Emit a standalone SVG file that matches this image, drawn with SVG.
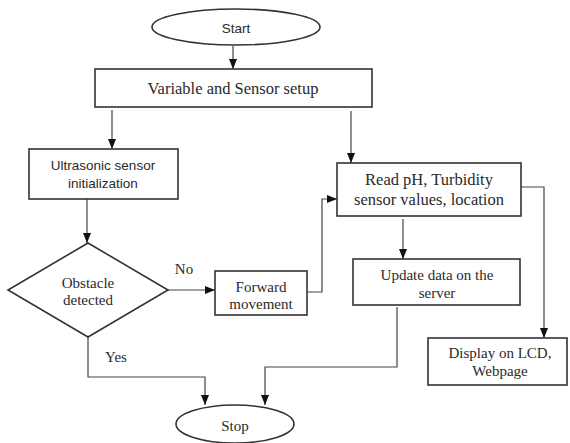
<svg xmlns="http://www.w3.org/2000/svg" width="570" height="443" viewBox="0 0 570 443">
<style>
.shape{fill:#fff;stroke:#333;stroke-width:1.6}
.conn{fill:none;stroke:#444;stroke-width:1.2}
.serif{font-family:"Liberation Serif","Times New Roman",serif;fill:#2a2a2a;text-anchor:middle;dominant-baseline:central}
.sans{font-family:"Liberation Sans",Arial,sans-serif;fill:#2a2a2a;text-anchor:middle;dominant-baseline:central}
</style>
<defs>
<marker id="arr" markerUnits="userSpaceOnUse" markerWidth="10" markerHeight="10" viewBox="0 0 10 10" refX="10" refY="5" orient="auto">
<path d="M0,1 L10,5 L0,9 Z" fill="#111"/>
</marker>
</defs>
<rect width="570" height="443" fill="#fff"/>
<g id="connectors">
<path class="conn" d="M233,46 V69" marker-end="url(#arr)"/>
<path class="conn" d="M112,110 V149" marker-end="url(#arr)"/>
<path class="conn" d="M351,111 V163" marker-end="url(#arr)"/>
<path class="conn" d="M87,199 V243" marker-end="url(#arr)"/>
<path class="conn" d="M168,290 H215" marker-end="url(#arr)"/>
<path class="conn" d="M307,292 H322 V199 H337" marker-end="url(#arr)"/>
<path class="conn" d="M403,219 V259" marker-end="url(#arr)"/>
<path class="conn" d="M521,187 H544 V338" marker-end="url(#arr)"/>
<path class="conn" d="M88,337 V377 H205 V405" marker-end="url(#arr)"/>
<path class="conn" d="M397,307 V367 H265 V405" marker-end="url(#arr)"/>
<text class="serif" x="184" y="269" font-size="15">No</text>
<text class="serif" x="116" y="357" font-size="15">Yes</text>
</g>
<g id="start">
<ellipse class="shape" cx="236" cy="27" rx="84" ry="18"/>
<text class="sans" x="236" y="28" font-size="13.5">Start</text>
</g>
<g id="setup">
<rect class="shape" x="95" y="69" width="277" height="38"/>
<text class="serif" x="233" y="88" font-size="16.5">Variable and Sensor setup</text>
</g>
<g id="ultrasonic">
<rect class="shape" x="29" y="149" width="149" height="50"/>
<text class="sans" x="103" y="165" font-size="13.5">Ultrasonic sensor</text>
<text class="sans" x="103" y="183" font-size="13.5">initialization</text>
</g>
<g id="obstacle">
<polygon class="shape" points="88,243 168,290 88,337 8,290"/>
<text class="serif" x="88" y="283" font-size="15">Obstacle</text>
<text class="serif" x="88" y="300" font-size="15">detected</text>
</g>
<g id="forward">
<rect class="shape" x="215" y="271" width="92" height="44"/>
<text class="serif" x="261" y="287" font-size="15">Forward</text>
<text class="serif" x="261" y="304" font-size="15">movement</text>
</g>
<g id="read">
<rect class="shape" x="337" y="163" width="184" height="53"/>
<text class="serif" x="429" y="179" font-size="16.5">Read pH, Turbidity</text>
<text class="serif" x="429" y="199" font-size="16.5">sensor values, location</text>
</g>
<g id="update">
<rect class="shape" x="353" y="259" width="167" height="46"/>
<text class="serif" x="437" y="275" font-size="15">Update data on the</text>
<text class="serif" x="437" y="293" font-size="15">server</text>
</g>
<g id="display">
<rect class="shape" x="428" y="338" width="139" height="47"/>
<text class="serif" x="500" y="353" font-size="15">Display on LCD,</text>
<text class="serif" x="500" y="371" font-size="15">Webpage</text>
</g>
<g id="stop">
<ellipse class="shape" cx="235" cy="424" rx="59" ry="19"/>
<text class="serif" x="235" y="426" font-size="15">Stop</text>
</g>
</svg>
